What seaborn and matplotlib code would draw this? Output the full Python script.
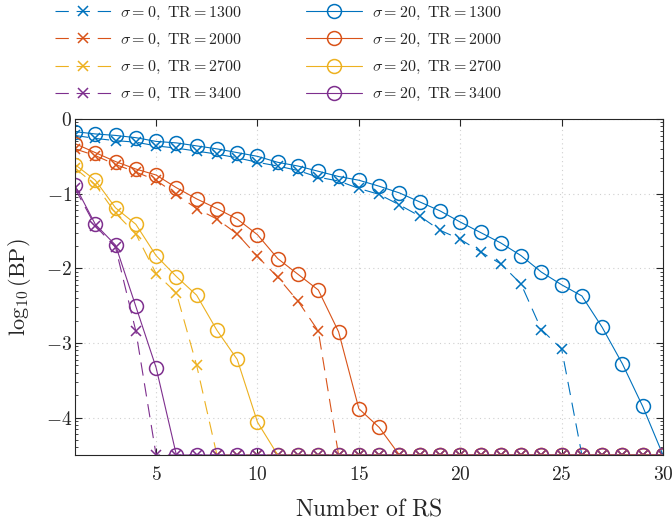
import numpy as np
import matplotlib
matplotlib.use("Agg")
import matplotlib.pyplot as plt
import seaborn as sns
from matplotlib.ticker import FixedLocator

# x axis: number of RS
rs = list(range(1, 31))

# sigma = 0 (dashed, x markers)
s0_1300 = [-0.22, -0.26, -0.29, -0.31, -0.36, -0.39, -0.43, -0.47, -0.52, -0.58,
           -0.63, -0.69, -0.78, -0.83, -0.93, -1.01, -1.15, -1.30, -1.49, -1.61,
           -1.78, -1.94, -2.21, -2.82, -3.08, -4.5, -4.5, -4.5, -4.5, -4.5]
s0_2000 = [-0.40, -0.49, -0.61, -0.71, -0.82, -1.01, -1.20, -1.34, -1.54, -1.84,
           -2.12, -2.44, -2.84, -4.5, -4.5, -4.5, -4.5, -4.5, -4.5, -4.5,
           -4.5, -4.5, -4.5, -4.5, -4.5, -4.5, -4.5, -4.5, -4.5, -4.5]
s0_2700 = [-0.66, -0.88, -1.26, -1.54, -2.07, -2.33, -3.30, -4.5, -4.5, -4.5,
           -4.5, -4.5, -4.5, -4.5, -4.5, -4.5, -4.5, -4.5, -4.5, -4.5,
           -4.5, -4.5, -4.5, -4.5, -4.5, -4.5, -4.5, -4.5, -4.5, -4.5]
s0_3400 = [-0.93, -1.43, -1.72, -2.84, -4.5, -4.5, -4.5, -4.5, -4.5, -4.5,
           -4.5, -4.5, -4.5, -4.5, -4.5, -4.5, -4.5, -4.5, -4.5, -4.5,
           -4.5, -4.5, -4.5, -4.5, -4.5, -4.5, -4.5, -4.5, -4.5, -4.5]

# sigma = 20 (solid, circle markers)
s20_1300 = [-0.17, -0.20, -0.22, -0.25, -0.30, -0.32, -0.36, -0.40, -0.45, -0.50,
            -0.58, -0.63, -0.70, -0.77, -0.82, -0.90, -0.99, -1.11, -1.23, -1.38,
            -1.52, -1.66, -1.83, -2.05, -2.22, -2.37, -2.79, -3.28, -3.85, -4.5]
s20_2000 = [-0.33, -0.45, -0.57, -0.67, -0.75, -0.92, -1.07, -1.20, -1.34, -1.55,
            -1.87, -2.08, -2.29, -2.85, -3.88, -4.13, -4.5, -4.5, -4.5, -4.5,
            -4.5, -4.5, -4.5, -4.5, -4.5, -4.5, -4.5, -4.5, -4.5, -4.5]
s20_2700 = [-0.61, -0.82, -1.19, -1.41, -1.83, -2.11, -2.36, -2.83, -3.22, -4.06,
            -4.5, -4.5, -4.5, -4.5, -4.5, -4.5, -4.5, -4.5, -4.5, -4.5,
            -4.5, -4.5, -4.5, -4.5, -4.5, -4.5, -4.5, -4.5, -4.5, -4.5]
s20_3400 = [-0.89, -1.41, -1.69, -2.51, -3.33, -4.5, -4.5, -4.5, -4.5, -4.5,
            -4.5, -4.5, -4.5, -4.5, -4.5, -4.5, -4.5, -4.5, -4.5, -4.5,
            -4.5, -4.5, -4.5, -4.5, -4.5, -4.5, -4.5, -4.5, -4.5, -4.5]

tr_values = ["1300", "2000", "2700", "3400"]
colors = ["#0072BD", "#D95319", "#EDB120", "#7E2F8E"]

sns.set_style("ticks")
plt.rcParams["mathtext.fontset"] = "cm"
plt.rcParams["font.family"] = ["serif"]
plt.rcParams["font.serif"] = ["cmr10", "DejaVu Serif"]

fig = plt.figure(figsize=(6.72, 5.21), dpi=100)
ax = fig.add_axes([75 / 672, 1 - 455 / 521, (663 - 75) / 672, (455 - 119) / 521])

# sigma = 0 curves
for ys, tr, c in zip([s0_1300, s0_2000, s0_2700, s0_3400], tr_values, colors):
    sns.lineplot(x=rs, y=ys, ax=ax, color=c, linestyle=(0, (12, 7)), linewidth=0.8,
                 marker="x", markersize=7.5, markeredgewidth=1.1, markeredgecolor=c,
                 label=r"$\sigma = 0,\ \mathrm{TR} = %s$" % tr)

# sigma = 20 curves
for ys, tr, c in zip([s20_1300, s20_2000, s20_2700, s20_3400], tr_values, colors):
    sns.lineplot(x=rs, y=ys, ax=ax, color=c, linestyle="-", linewidth=0.8,
                 marker="o", markersize=10, markeredgewidth=1.1, markeredgecolor=c,
                 markerfacecolor="none",
                 label=r"$\sigma = 20,\ \mathrm{TR} = %s$" % tr)

ax.set_xlim(1, 30)
ax.set_ylim(-4.5, 0)

xt = [5, 10, 15, 20, 25, 30]
yt = [0, -1, -2, -3, -4]
ax.xaxis.set_major_locator(FixedLocator(xt))
ax.yaxis.set_major_locator(FixedLocator(yt))
ax.set_xticklabels([r"$%d$" % v for v in xt])
ax.set_yticklabels([r"$0$"] + [r"$-%d$" % -v for v in yt[1:]])

# log-style minor ticks between the decades
minor = []
for n in range(0, 5):
    for k in range(2, 10):
        v = -n - 1 + np.log10(k)
        if v >= -4.5:
            minor.append(v)
ax.yaxis.set_minor_locator(FixedLocator(minor))
ax.xaxis.set_minor_locator(FixedLocator([]))

ax.tick_params(which="both", direction="in", top=True, right=True, labelsize=14,
               color="#262626")
ax.tick_params(which="major", length=5, width=0.8)
ax.tick_params(which="minor", length=2.5, width=0.6)
ax.tick_params(axis="x", pad=8)
ax.tick_params(axis="y", pad=2)
for sp in ax.spines.values():
    sp.set_linewidth(0.8)
    sp.set_color("#262626")

ax.grid(True, which="major", linestyle=(0, (1, 3)), color="#d0d0d0", linewidth=0.8)

ax.set_xlabel(r"$\mathrm{Number\ of\ RS}$", fontsize=17, labelpad=10)
ax.set_ylabel(r"$\log_{10}(\mathrm{BP})$", fontsize=16, labelpad=9)

handles, labels = ax.get_legend_handles_labels()
ax.legend_.remove()
fig.legend(handles, labels, ncol=2, loc="upper left",
           bbox_to_anchor=(55 / 672, 1 - 5 / 521), frameon=False, fontsize=11.5,
           handlelength=3.5, handletextpad=0.6, columnspacing=4.0,
           labelspacing=0.62, borderpad=0, borderaxespad=0)

fig.savefig("out.png", dpi=100)
